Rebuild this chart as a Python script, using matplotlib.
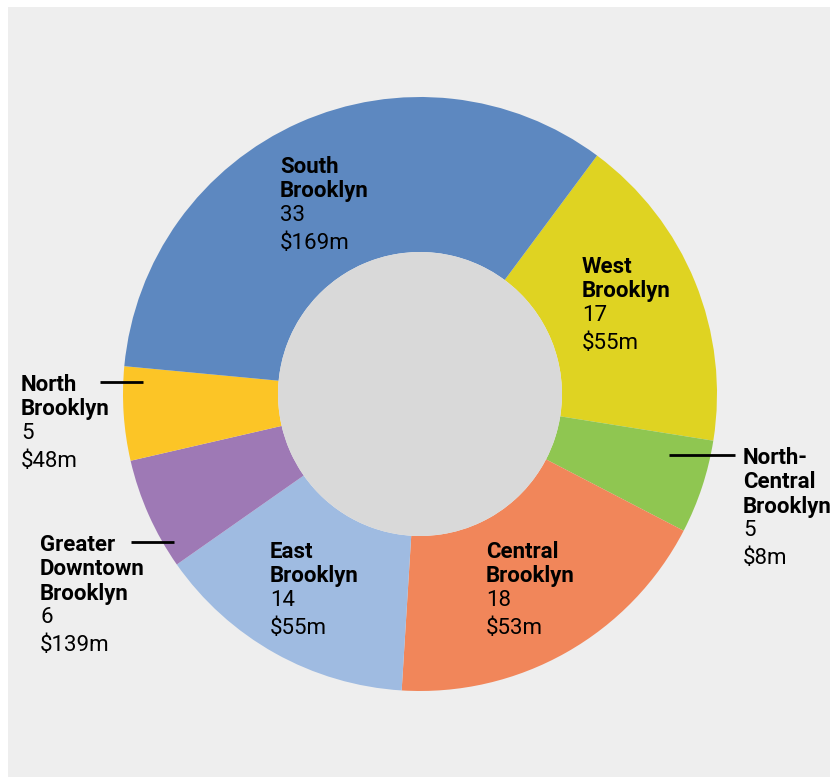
import matplotlib
matplotlib.use("Agg")
import matplotlib.pyplot as plt
from matplotlib.patches import Rectangle, Circle

# ---- data ----
regions = ["West\nBrooklyn", "North-\nCentral\nBrooklyn", "Central\nBrooklyn",
           "East\nBrooklyn", "Greater\nDowntown\nBrooklyn", "North\nBrooklyn",
           "South\nBrooklyn"]
counts = [17, 5, 18, 14, 6, 5, 33]
amounts = ["$55m", "$8m", "$53m", "$55m", "$139m", "$48m", "$169m"]
colors = ["#dfd322", "#8fc651", "#f1865a", "#9fbbe1", "#9e79b5", "#fcc526", "#5d88c0"]

W, H = 830, 777
fig = plt.figure(figsize=(W / 100, H / 100), dpi=100, facecolor="white")
ax = fig.add_axes([0, 0, 1, 1])

def Y(y):
    return H - y

cx, cy = 420, 394
R_out, R_in = 297, 142

ax.add_patch(Rectangle((8, 0), W - 8, H - 7, facecolor="#eeeeee", edgecolor="none", zorder=0))

ax.pie(counts, colors=colors, startangle=53.4, counterclock=False,
       center=(cx, Y(cy)), radius=R_out,
       wedgeprops=dict(width=R_out - R_in, edgecolor="none", linewidth=0))
ax.add_patch(Circle((cx, Y(cy)), R_in, facecolor="#d9d9d9", edgecolor="none", zorder=5))

ax.set_xlim(0, W)
ax.set_ylim(0, H)
ax.set_aspect("auto")
ax.axis("off")

# label placement: (x, y of first line) per region, same order as data
label_pos = [(582, 266), (743, 457), (486, 551), (270, 551), (40, 544), (21, 384), (280, 166)]
fam = ["Roboto", "DejaVu Sans"]
fs = 16
step = 24.3
for name, n, amt, (x, y0) in zip(regions, counts, amounts, label_pos):
    lines = name.split("\n")
    y = y0 + 1
    for ln in lines:
        ax.text(x, Y(y), ln, fontsize=fs, fontweight="bold", family=fam,
                ha="left", va="center", color="#000000", zorder=10)
        y += step
    ax.text(x, Y(y), str(n), fontsize=fs, family=fam, ha="left", va="center",
            color="#000000", zorder=10)
    y += 28
    ax.text(x, Y(y), amt, fontsize=fs, family=fam, ha="left", va="center",
            color="#000000", zorder=10)

# leader lines
leaders = [((100, 143), 382), ((131, 174), 542), ((669, 735), 455)]
for (x0, x1), y in leaders:
    ax.plot([x0, x1], [Y(y), Y(y)], color="#000000", lw=2, zorder=10, solid_capstyle="butt")

fig.savefig("out.png", dpi=100, facecolor="white")
